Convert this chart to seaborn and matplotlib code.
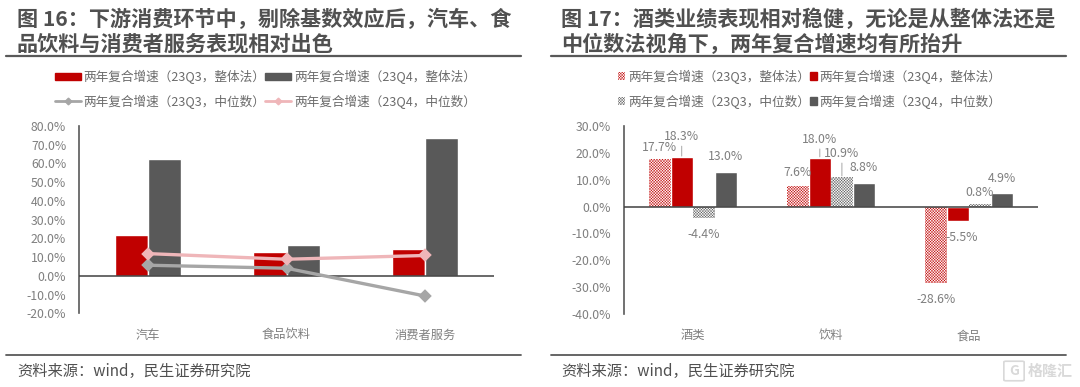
"""Two consumer-sector panels: growth bars with median lines, and four-bar alcohol/drinks/food comparison."""
import numpy as np
import pandas as pd
import matplotlib
matplotlib.use("Agg")
import matplotlib.pyplot as plt
import seaborn as sns
from matplotlib.lines import Line2D
from matplotlib.patches import FancyBboxPatch, Patch
from matplotlib.ticker import FuncFormatter

Q3_ALL = "两年复合增速（23Q3，整体法）"
Q4_ALL = "两年复合增速（23Q4，整体法）"
Q3_MED = "两年复合增速（23Q3，中位数）"
Q4_MED = "两年复合增速（23Q4，中位数）"

left_title = "图 16：下游消费环节中，剔除基数效应后，汽车、食\n品饮料与消费者服务表现相对出色"
right_title = "图 17：酒类业绩表现相对稳健，无论是从整体法还是\n中位数法视角下，两年复合增速均有所抬升"
source_text = "资料来源：wind，民生证券研究院"

left_cats = ["汽车", "食品饮料", "消费者服务"]
left_q3_all = [21.9, 12.7, 14.3]
left_q4_all = [62.4, 16.4, 73.6]
left_q3_med = [5.7, 4.1, -10.7]
left_q4_med = [11.9, 8.9, 10.9]

right_cats = ["酒类", "饮料", "食品"]
right_q3_all = [17.7, 7.6, -28.6]
right_q4_all = [18.3, 18.0, -5.5]
right_q3_med = [-4.4, 10.9, 0.8]
right_q4_med = [13.0, 8.8, 4.9]

RED = "#c00000"
DARK = "#595959"
LINE_GREY = "#a6a6a6"
LINE_PINK = "#efb6b9"
TEXT = "#7f7f7f"
HATCH = "xxxxxxxxxxxx"
W, H = 1080, 387


def long_df(cats, series):
    rows = [{"cat": c, "series": name, "value": v}
            for name, vals in series.items() for c, v in zip(cats, vals)]
    return pd.DataFrame(rows)


def px_axes(fig, x0, x1, y_top, y_bottom):
    return fig.add_axes([x0 / W, 1 - y_bottom / H, (x1 - x0) / W, (y_bottom - y_top) / H])


def style_axes(ax, ylim, step):
    ax.set_ylim(*ylim)
    ax.set_xlim(-0.5, 2.5)
    ax.set_yticks(np.arange(ylim[0], ylim[1] + 1, step))
    ax.yaxis.set_major_formatter(FuncFormatter(lambda v, _: f"{v:.1f}%"))
    ax.set_xlabel(""); ax.set_ylabel("")
    ax.grid(False)
    sns.despine(ax=ax, top=True, right=True, bottom=True)
    ax.spines["left"].set_color("#595959")
    ax.spines["left"].set_linewidth(1.2)
    ax.axhline(0, color="#404040", lw=1.1, zorder=3)
    ax.tick_params(axis="y", length=0, pad=9.2, labelsize=8.8, labelcolor=TEXT)
    ax.tick_params(axis="x", length=0, pad=11, labelsize=8.8, labelcolor=TEXT)
    ax.patch.set_alpha(0)


def frame_text(fig, title, source, x_text, x0, x1):
    fig.text(x_text / W, 1 - 31.5 / H, title, fontsize=15.2, fontweight="bold", color="#505050",
             va="center", ha="left", linespacing=1.2)
    fig.add_artist(Line2D([x0 / W, x1 / W], [1 - 56 / H] * 2, color="#595959", lw=1.6))
    fig.add_artist(Line2D([x0 / W, x1 / W], [1 - 355 / H] * 2, color="#595959", lw=1.3))
    fig.text(x_text / W, 1 - 371 / H, source, fontsize=11, color="#505050", va="center", ha="left")


sns.set_theme(style="white")
plt.rcParams["font.family"] = ["Noto Sans CJK SC", "DejaVu Sans"]
plt.rcParams["axes.unicode_minus"] = False
plt.rcParams["hatch.linewidth"] = 0.3

fig = plt.figure(figsize=(W / 100, H / 100), dpi=100, facecolor="white")

# left panel: bars plus two median lines
ax1 = px_axes(fig, 79, 494, 126, 313.4)
bars1 = long_df(left_cats, {Q3_ALL: left_q3_all, Q4_ALL: left_q4_all})
sns.barplot(data=bars1, x="cat", y="value", hue="series", palette=[RED, DARK], width=0.48, gap=0,
            legend=False, ax=ax1, saturation=1, zorder=2)
lines1 = long_df(left_cats, {Q3_MED: left_q3_med, Q4_MED: left_q4_med})
sns.pointplot(data=lines1, x="cat", y="value", hue="series", palette=[LINE_GREY, LINE_PINK], markers="D",
              markersize=5, linewidth=2.4, legend=False, ax=ax1, zorder=4, errorbar=None)
style_axes(ax1, (-20, 80), 10)
frame_text(fig, left_title, source_text, 17, 6, 521)

handles1 = [Patch(color=RED), Line2D([], [], color=LINE_GREY, lw=2, marker="D", ms=3.4),
            Patch(color=DARK), Line2D([], [], color=LINE_PINK, lw=2, marker="D", ms=3.4)]
fig.legend(handles1, [Q3_ALL, Q3_MED, Q4_ALL, Q4_MED], ncol=2, loc="center left",
           bbox_to_anchor=(55 / W, 1 - 89 / H), frameon=False, fontsize=9.1, labelcolor="#6b6b6b",
           handlelength=2.06, handleheight=0.5, handletextpad=0.2, columnspacing=0.0, labelspacing=0.85,
           borderpad=0, borderaxespad=0)

# right panel: four bars, two of them hatched
ax2 = px_axes(fig, 623.7, 1038, 126, 314)
bars2 = long_df(right_cats, {Q3_ALL: right_q3_all, Q4_ALL: right_q4_all, Q3_MED: right_q3_med, Q4_MED: right_q4_med})
sns.barplot(data=bars2, x="cat", y="value", hue="series", palette=[RED, RED, DARK, DARK], width=0.64, gap=0,
            legend=False, ax=ax2, saturation=1, zorder=2)
for container, color in [(ax2.containers[0], RED), (ax2.containers[2], DARK)]:
    for bar in container:
        bar.set_facecolor("white")
        bar.set_edgecolor(color)
        bar.set_hatch(HATCH)
        bar.set_linewidth(0)
style_axes(ax2, (-40, 30), 10)
frame_text(fig, right_title, source_text, 561, 551, 1066)

# (pixels from bar end to label centre, sideways nudge, leader line or not)
label_gaps = [[(12, 0, False), (14, 0, False), (16, 0, False)],
              [(21, 0, True), (19, 0, True), (16, 4, False)],
              [(16, 0, False), (24, 0, True), (12, 0, False)],
              [(15, 0, False), (15, 0, False), (15, 0, False)]]
px = 72 / fig.dpi
for container, gaps in zip(ax2.containers, label_gaps):
    for bar, (gap, nudge, leader) in zip(container, gaps):
        val = bar.get_height()
        cx = bar.get_x() + bar.get_width() / 2
        sign = 1 if val > 0 else -1
        ax2.annotate(f"{val:.1f}%", xy=(cx, val), xytext=(nudge * px, sign * gap * px), textcoords="offset points",
                     ha="center", va="center", fontsize=8.8, color=TEXT, zorder=5,
                     arrowprops=dict(arrowstyle="-", color="#a6a6a6", lw=0.7, shrinkA=0, shrinkB=1) if leader else None)

handles2 = [Patch(facecolor="white", edgecolor=RED, hatch=HATCH, lw=0),
            Patch(facecolor="white", edgecolor=DARK, hatch=HATCH, lw=0),
            Patch(color=RED), Patch(color=DARK)]
fig.legend(handles2, [Q3_ALL, Q3_MED, Q4_ALL, Q4_MED], ncol=2, loc="center left",
           bbox_to_anchor=(618.4 / W, 1 - 89 / H), frameon=False, fontsize=9.1, labelcolor="#6b6b6b",
           handlelength=0.55, handleheight=0.55, handletextpad=0.22, columnspacing=0.0, labelspacing=0.85,
           borderpad=0, borderaxespad=0)

# watermark
fig.add_artist(FancyBboxPatch((1006 / W, 1 - 380 / H), 16 / W, 18 / H, boxstyle="round,pad=0.002",
                              transform=fig.transFigure, fill=False, edgecolor="#d9d9d9", lw=1.2))
fig.text(1014 / W, 1 - 371 / H, "G", fontsize=10, color="#d9d9d9", ha="center", va="center", fontweight="bold")
fig.text(1028 / W, 1 - 371 / H, "格隆汇", fontsize=10.8, color="#d9d9d9", ha="left", va="center", fontweight="bold")

fig.savefig("out.png", dpi=100, facecolor="white")
